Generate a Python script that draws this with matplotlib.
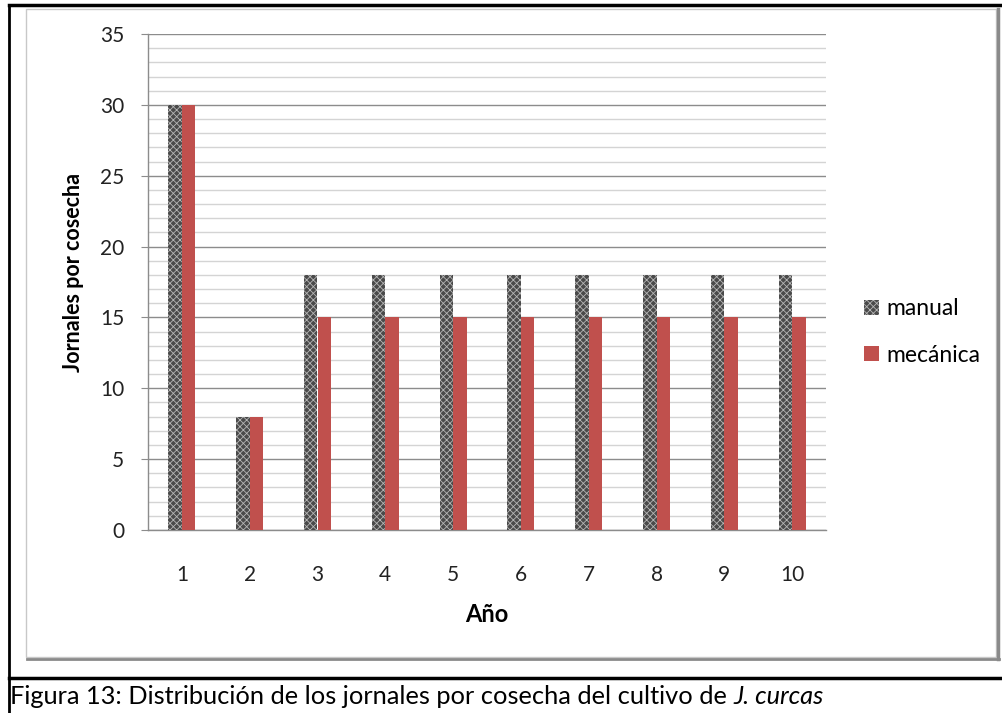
import matplotlib
matplotlib.use('Agg')
import matplotlib.pyplot as plt
from matplotlib.lines import Line2D
from matplotlib.patches import Rectangle, Patch

years = [1, 2, 3, 4, 5, 6, 7, 8, 9, 10]
manual = [30, 8, 18, 18, 18, 18, 18, 18, 18, 18]
mecanica = [30, 8, 15, 15, 15, 15, 15, 15, 15, 15]
series_names = ['manual', 'mecánica']

W, H = 1002, 713
plt.rcParams['font.family'] = ['Lato', 'DejaVu Sans']
plt.rcParams['hatch.linewidth'] = 0.6

def fx(x):
    return x / W

def fy(y):
    return 1 - y / H

fig = plt.figure(figsize=(W / 100, H / 100), dpi=100)
fig.patch.set_facecolor('white')

# frames
fig.add_artist(Line2D([fx(9), fx(9)], [fy(5), fy(713)], color='black', lw=2))
fig.add_artist(Line2D([fx(9), fx(1002)], [fy(5), fy(5)], color='black', lw=2.5))
fig.add_artist(Line2D([fx(9), fx(1002)], [fy(678), fy(678)], color='black', lw=2.5))
fig.add_artist(Rectangle((fx(26), fy(657)), fx(996) - fx(26), fy(9) - fy(657),
                         transform=fig.transFigure, fill=False, ec='#c8c8c8', lw=1))
fig.add_artist(Line2D([fx(998), fx(998)], [fy(9), fy(659)], color='#8a8a8a', lw=2.5))
fig.add_artist(Line2D([fx(27), fx(999)], [fy(658.5), fy(658.5)], color='#8a8a8a', lw=2))

ax = fig.add_axes([fx(148), fy(530), fx(826) - fx(148), fy(34) - fy(530)])

width = 0.2
x_man = [y - width / 2 for y in years]
x_mec = [y + width / 2 for y in years]
ax.bar(x_man, manual, width, color='#4a4a4a', edgecolor='#b5b5b5', hatch='xxxxx', lw=0, zorder=3)
ax.bar(x_mec, mecanica, width, color='#c0504d', lw=0, zorder=3)

ax.set_xlim(0.5, 10.5)
ax.set_ylim(0, 35)
ax.set_yticks(range(0, 36, 5))
ax.set_yticks(range(0, 36, 1), minor=True)
ax.set_xticks(years)
ax.grid(axis='y', which='minor', color='#d4d4d4', lw=1, zorder=0)
ax.grid(axis='y', which='major', color='#8c8c8c', lw=1, zorder=1)

for s in ['top', 'right']:
    ax.spines[s].set_visible(False)
for s in ['left', 'bottom']:
    ax.spines[s].set_color('#8c8c8c')
    ax.spines[s].set_linewidth(1)

ax.tick_params(axis='y', which='major', length=5, color='#8c8c8c', pad=12, labelsize=15)
ax.tick_params(axis='y', which='minor', length=0)
ax.tick_params(axis='x', length=0, pad=25, labelsize=15)
for lab in ax.get_xticklabels() + ax.get_yticklabels():
    lab.set_color('#222222')

fig.text(fx(73), fy(272), 'Jornales por cosecha', rotation=90, ha='center', va='center',
         fontsize=15.5, fontweight='bold')
fig.text(fx(487), fy(614), 'Año', ha='center', va='center', fontsize=17, fontweight='bold')

handles = [Patch(facecolor='#4a4a4a', edgecolor='#b5b5b5', hatch='xxxxx', lw=0),
           Patch(facecolor='#c0504d', lw=0)]
fig.legend(handles, series_names, loc='center left', bbox_to_anchor=(fx(843), fy(332)),
           frameon=False, fontsize=16.5, handlelength=0.65, handleheight=0.65,
           handletextpad=0.35, labelspacing=1.1)

# caption with italic species name
t1 = fig.text(fx(10), fy(697), 'Figura 13: Distribución de los jornales por cosecha del cultivo de ',
              ha='left', va='center', fontsize=18.3)
fig.canvas.draw()
bb = t1.get_window_extent(fig.canvas.get_renderer())
fig.text(bb.x1 / W, fy(697), 'J. curcas', ha='left', va='center', fontsize=18.3, style='italic')

fig.savefig('out.png', dpi=100)
